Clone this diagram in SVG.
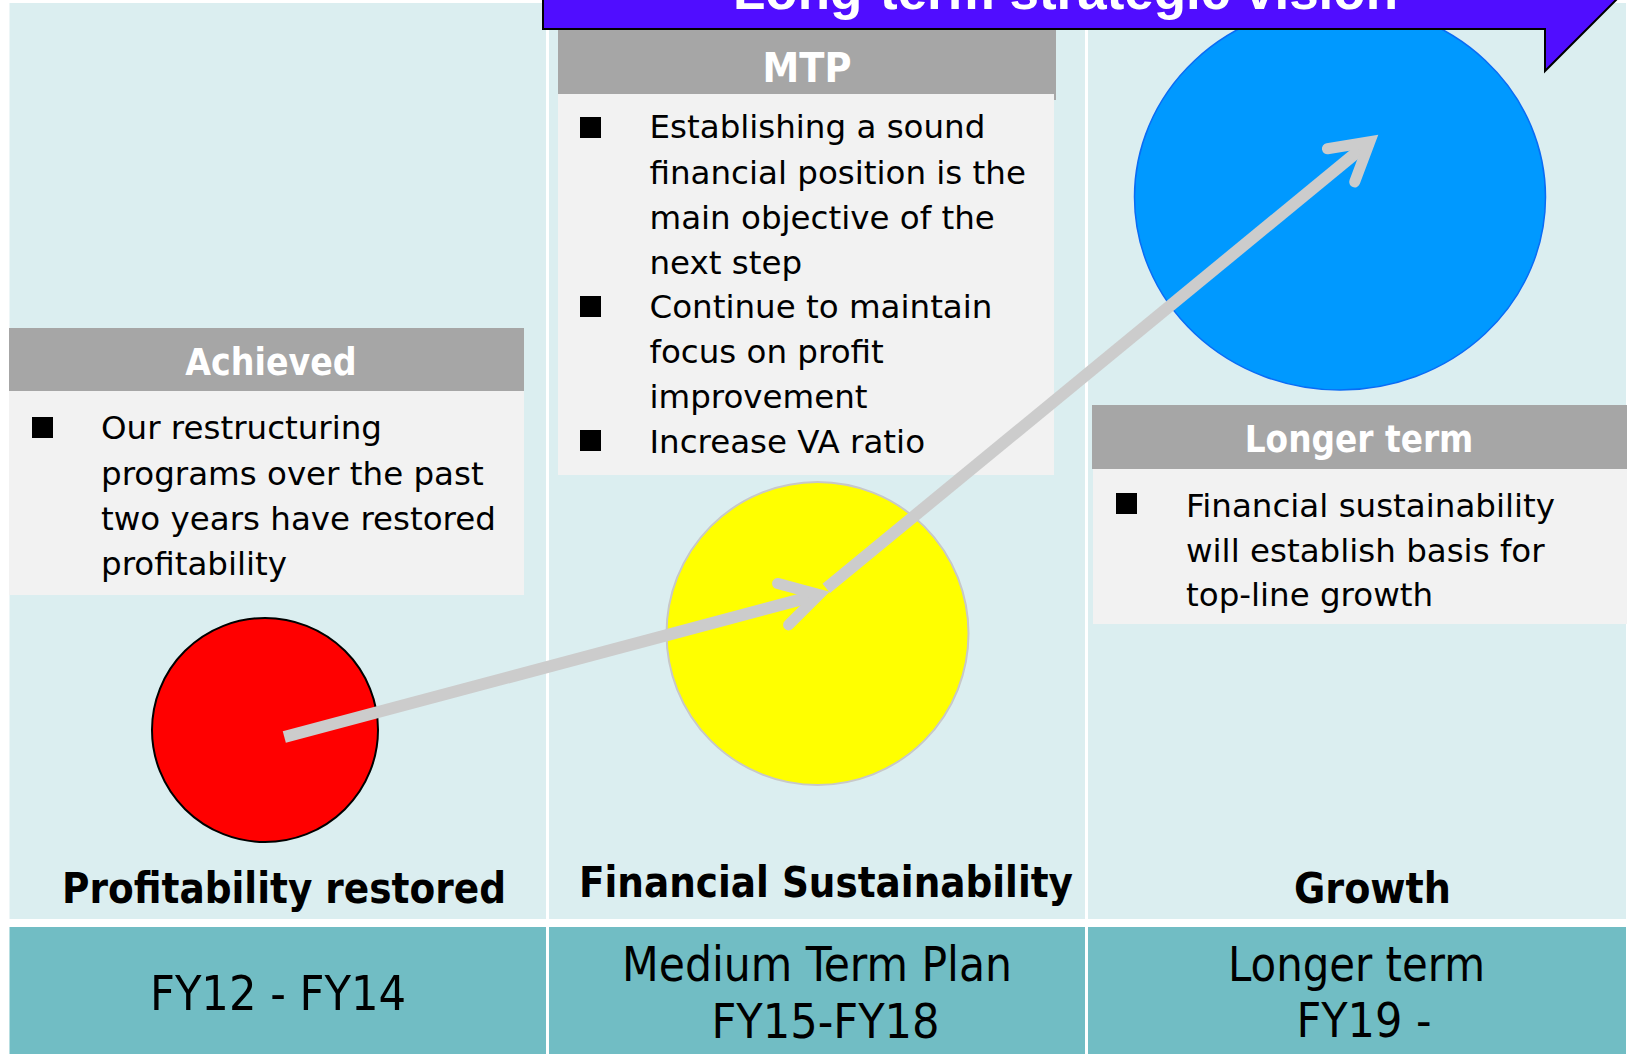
<svg xmlns="http://www.w3.org/2000/svg" width="1628" height="1054" viewBox="0 0 1628 1054">
<style>
.panel{fill:#DBEEF0}
.band{fill:#71BDC4}
.hdr{fill:#A6A6A6}
.box{fill:#F2F2F2}
.hdrtxt{font-family:"DejaVu Sans Condensed","DejaVu Sans",sans-serif;font-stretch:condensed;font-weight:bold;fill:#FFFFFF;text-anchor:middle}
.body{font-family:"DejaVu Sans",sans-serif;font-size:32.5px;fill:#000000}
.lbl{font-family:"DejaVu Sans Condensed","DejaVu Sans",sans-serif;font-stretch:condensed;font-weight:bold;font-size:42px;fill:#000000;text-anchor:middle}
.per{font-family:"DejaVu Sans Condensed","DejaVu Sans",sans-serif;font-stretch:condensed;font-size:48px;fill:#000000;text-anchor:middle}
.bul{fill:#000000}
.conn{stroke:#CCCCCC;stroke-width:12;fill:none;stroke-linecap:butt}
</style>
<defs>
<marker id="openArrow" markerUnits="userSpaceOnUse" orient="auto" refX="0" refY="0" markerWidth="80" markerHeight="80" overflow="visible">
<path d="M-37.2,-21.5 L0,0 L-37.2,21.5" fill="none" stroke="#CCCCCC" stroke-width="11" stroke-linecap="round" stroke-linejoin="miter" stroke-miterlimit="4"/>
</marker>
</defs>
<rect width="1628" height="1054" fill="#FFFFFF"/>

<g id="columns">
<rect class="panel" x="9.5" y="3" width="536.5" height="916"/>
<rect class="panel" x="549" y="3" width="536" height="916"/>
<rect class="panel" x="1088" y="3" width="538" height="916"/>
</g>

<g id="circle-growth">
<ellipse cx="1340" cy="197" rx="205.5" ry="193" fill="#0099FF" stroke="#0A6CF5" stroke-width="1.5"/>
</g>

<g id="achieved">
<rect class="hdr" x="9" y="328" width="515" height="64"/>
<rect class="box" x="9" y="391" width="515" height="204"/>
<text class="hdrtxt" x="271" y="375" font-size="37">Achieved</text>
<rect class="bul" x="32" y="417" width="21" height="21"/>
<text class="body" x="101"><tspan x="101" y="439">Our restructuring</tspan><tspan x="101" y="484.5">programs over the past</tspan><tspan x="101" y="530">two years have restored</tspan><tspan x="101" y="575">profitability</tspan></text>
</g>

<g id="mtp">
<rect class="hdr" x="558" y="24" width="498" height="76"/>
<rect class="box" x="558" y="94" width="496" height="381"/>
<text class="hdrtxt" x="807" y="82" font-size="41">MTP</text>
<rect class="bul" x="580" y="117" width="21" height="21"/>
<rect class="bul" x="580" y="296" width="21" height="21"/>
<rect class="bul" x="580" y="430" width="21" height="21"/>
<text class="body"><tspan x="649.5" y="138">Establishing a sound</tspan><tspan x="649.5" y="184">financial position is the</tspan><tspan x="649.5" y="229">main objective of the</tspan><tspan x="649.5" y="274">next step</tspan><tspan x="649.5" y="318">Continue to maintain</tspan><tspan x="649.5" y="363">focus on profit</tspan><tspan x="649.5" y="408">improvement</tspan><tspan x="649.5" y="453">Increase VA ratio</tspan></text>
</g>

<g id="longer-term">
<rect class="hdr" x="1092" y="405" width="535" height="64"/>
<rect class="box" x="1093" y="469" width="534" height="155"/>
<text class="hdrtxt" x="1359" y="452" font-size="36.5">Longer term</text>
<rect class="bul" x="1116" y="493" width="21" height="21"/>
<text class="body"><tspan x="1186" y="517">Financial sustainability</tspan><tspan x="1186" y="562">will establish basis for</tspan><tspan x="1186" y="606">top-line growth</tspan></text>
</g>

<g id="circle-sustainability">
<ellipse cx="817.5" cy="633.5" rx="151" ry="151.5" fill="#FFFF00" stroke="#C8C8C8" stroke-width="2"/>
</g>

<g id="circle-profitability">
<ellipse cx="265" cy="730" rx="113" ry="112" fill="#FF0000" stroke="#000000" stroke-width="2"/>
</g>

<g id="stage-labels">
<text class="lbl" x="284" y="903" textLength="444" lengthAdjust="spacingAndGlyphs">Profitability restored</text>
<text class="lbl" x="826" y="897" textLength="494" lengthAdjust="spacingAndGlyphs">Financial Sustainability</text>
<text class="lbl" x="1372.5" y="903" textLength="157" lengthAdjust="spacingAndGlyphs">Growth</text>
</g>

<g id="periods">
<rect class="band" x="9.5" y="927" width="536.5" height="127"/>
<rect class="band" x="549" y="927" width="536" height="127"/>
<rect class="band" x="1088" y="927" width="538" height="127"/>
<text class="per" x="278" y="1010" textLength="256" lengthAdjust="spacingAndGlyphs">FY12 - FY14</text>
<text class="per" x="817" y="981" textLength="390" lengthAdjust="spacingAndGlyphs">Medium Term Plan</text>
<text class="per" x="825.5" y="1038" textLength="228" lengthAdjust="spacingAndGlyphs">FY15-FY18</text>
<text class="per" x="1356.5" y="981" textLength="257" lengthAdjust="spacingAndGlyphs">Longer term</text>
<text class="per" x="1364" y="1037" textLength="135" lengthAdjust="spacingAndGlyphs">FY19 -</text>
</g>

<g id="connectors">
<path class="conn" d="M284.3,737 L819,594.6" marker-end="url(#openArrow)"/>
<path class="conn" d="M826.3,588.3 L1369.8,141.7" marker-end="url(#openArrow)"/>
</g>

<g id="banner">
<polygon points="543,-150 1766,-150 1545,71 1545,29 543,29" fill="#500DFF" stroke="#000000" stroke-width="2"/>
<text x="1065.5" y="9" font-family="'Liberation Sans',Arial,sans-serif" font-weight="bold" font-size="51" fill="#FFFFFF" text-anchor="middle" textLength="665" lengthAdjust="spacingAndGlyphs">Long-term strategic vision</text>
</g>
</svg>
